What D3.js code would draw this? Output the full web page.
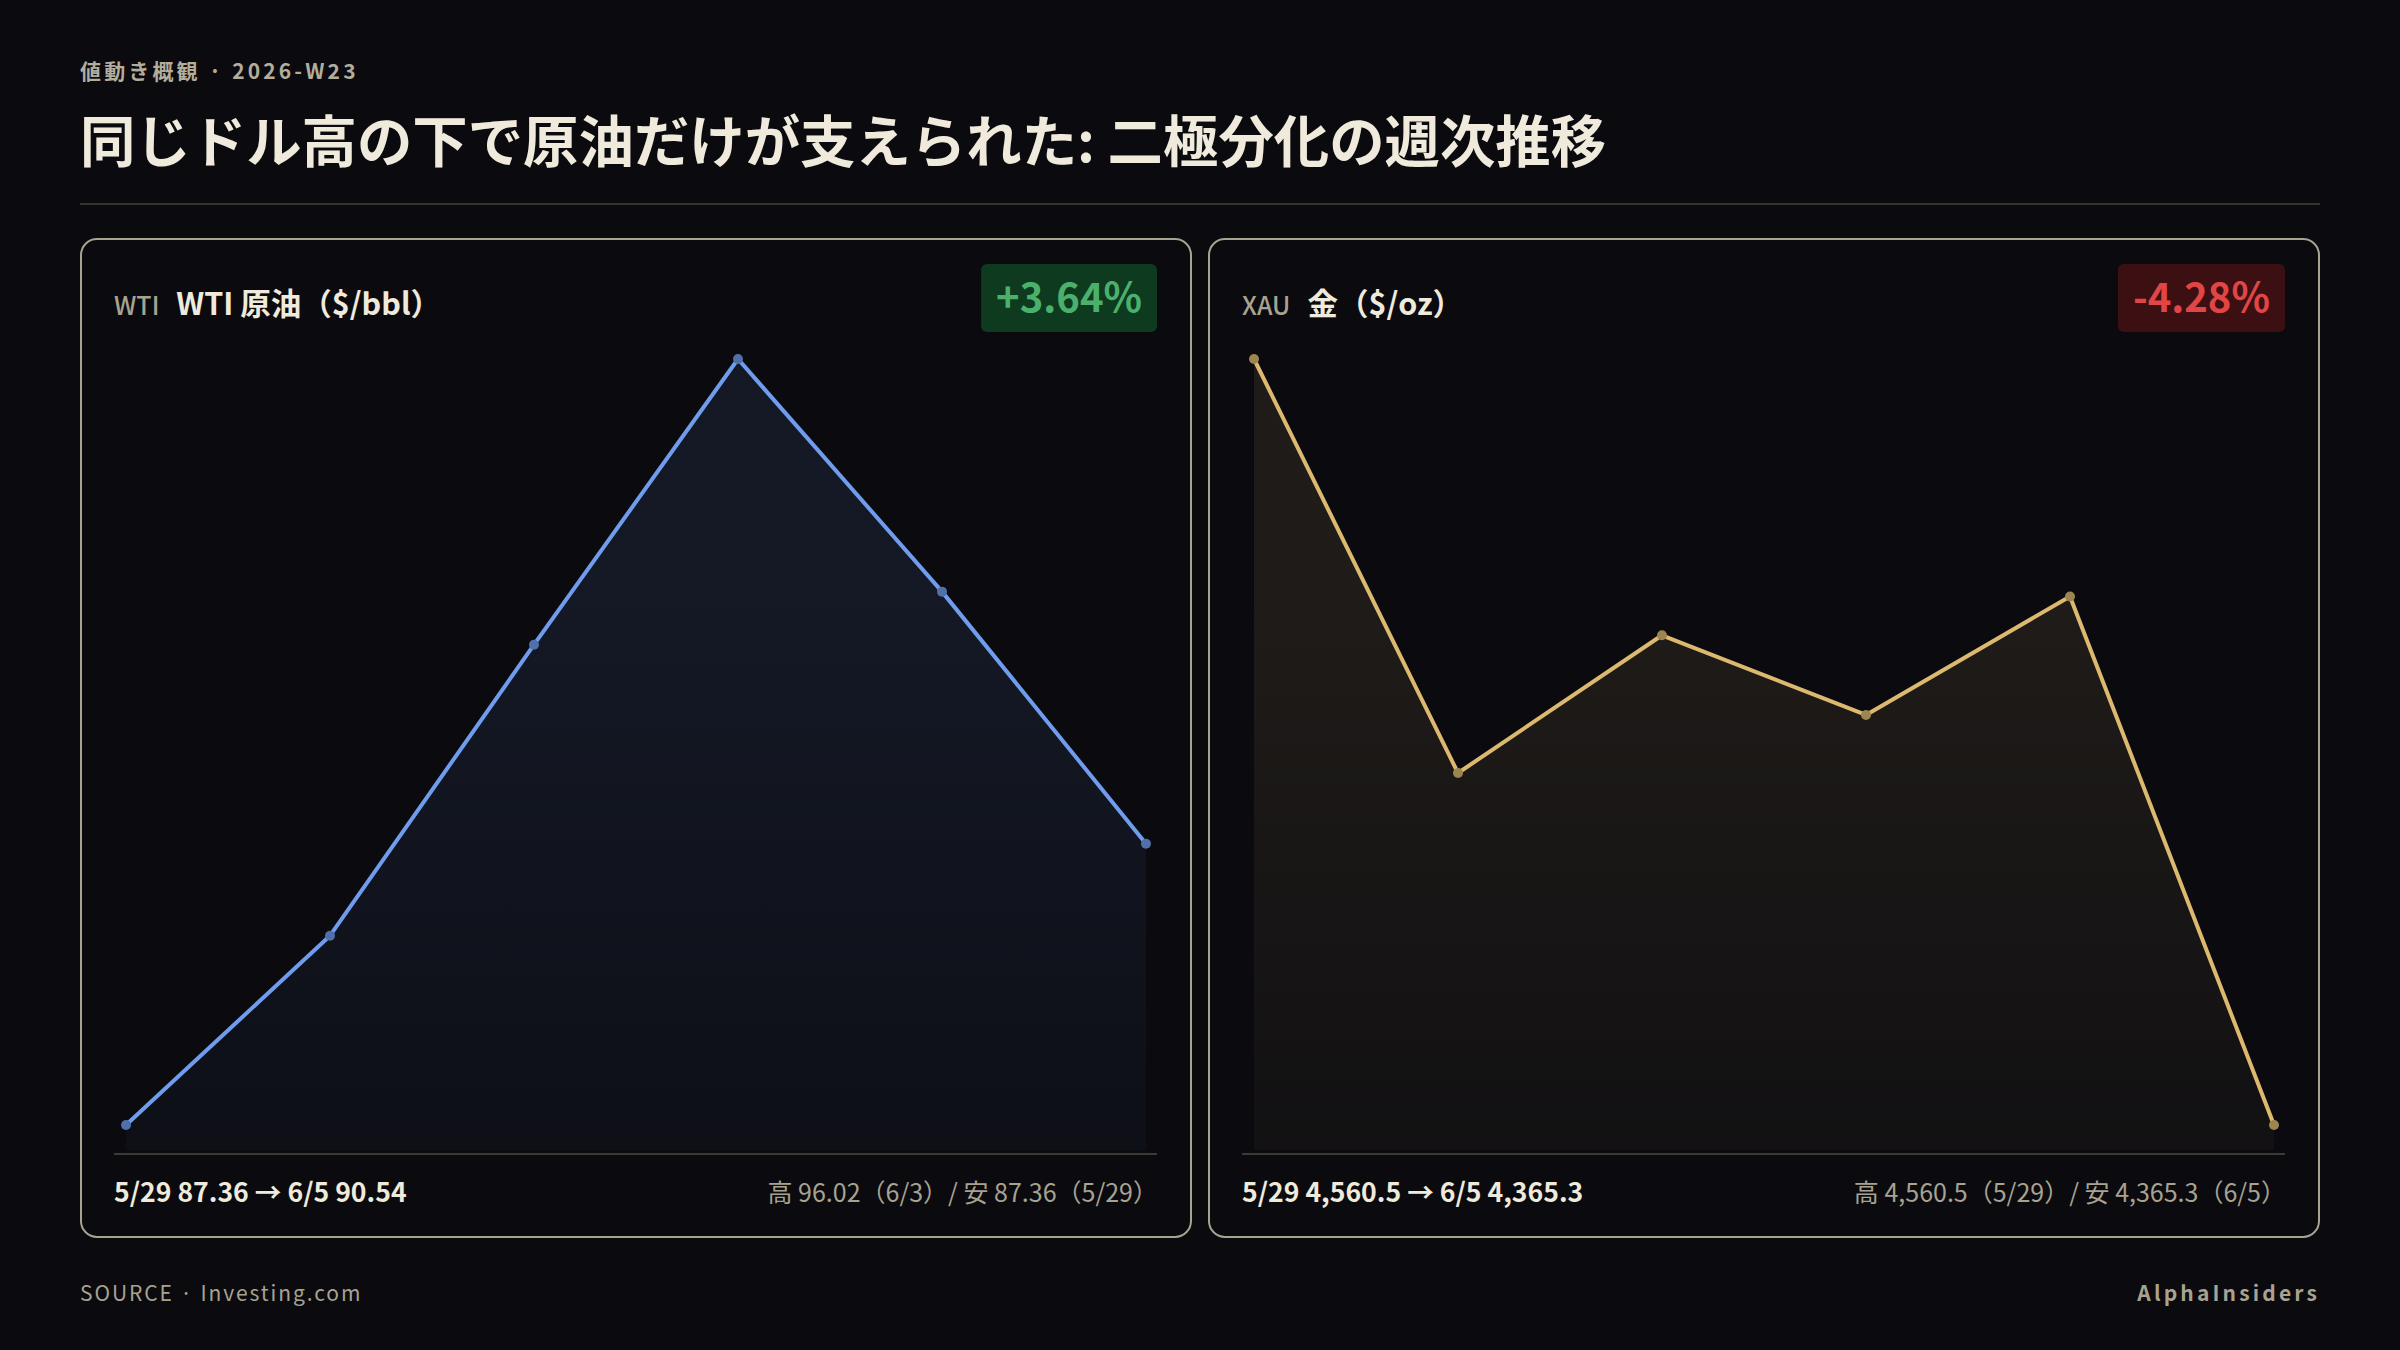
<!DOCTYPE html>
<html>
<head>
<meta charset="utf-8">
<script src="https://cdn.jsdelivr.net/npm/d3@7"></script>
<style>
  html, body { margin: 0; padding: 0; background: #0a0a0f; }
  svg { display: block; font-family: "Noto Sans CJK JP", "Noto Sans", sans-serif; }
</style>
</head>
<body>
<div id="chart"></div>
<script>
//////////////////////////////////////////////////////////////
///////////////////////// Data ///////////////////////////////
//////////////////////////////////////////////////////////////

var dates = ["5/29", "6/1", "6/2", "6/3", "6/4", "6/5"];
var wtiValues = [87.36, 89.50, 92.79, 96.02, 93.39, 90.54];
var goldValues = [4560.5, 4455.0, 4490.1, 4469.8, 4500.0, 4365.3];

var kicker = "値動き概観 · 2026-W23";
var title = "同じドル高の下で原油だけが支えられた: 二極分化の週次推移";
var source = "SOURCE · Investing.com";
var brand = "AlphaInsiders";

//////////////////////////////////////////////////////////////
/////////////////////// Settings /////////////////////////////
//////////////////////////////////////////////////////////////

var width = 2400;
var height = 1350;
var bg = "#0a0a0f";
var cream = "#efeadb";
var muted = "#a8a290";

var panelW = 1110;
var panelH = 998;
var panelTop = 239;

var panels = [
  {x: 81, code: "WTI", name: "WTI 原油（$/bbl）", values: wtiValues, color: "#6f9cec",
   fmt: d3.format(".2f")},
  {x: 1209, code: "XAU", name: "金（$/oz）", values: goldValues, color: "#dcb96e",
   fmt: d3.format(",.1f")}
];

var svg = d3.select("#chart").append("svg")
    .attr("width", width)
    .attr("height", height);

svg.append("rect")
    .attr("width", width)
    .attr("height", height)
    .attr("fill", bg);

var defs = svg.append("defs");

//////////////////////////////////////////////////////////////
//////////////////////// Header //////////////////////////////
//////////////////////////////////////////////////////////////

svg.append("text")
    .attr("x", 80)
    .attr("y", 79)
    .style("font-size", "21px")
    .style("font-weight", 700)
    .style("letter-spacing", "0.15em")
    .style("fill", "#b3ad9c")
    .text(kicker);

svg.append("text")
    .attr("x", 80)
    .attr("y", 162)
    .style("font-size", "55.4px")
    .style("font-weight", 700)
    .style("fill", cream)
    .text(title);

svg.append("line")
    .attr("x1", 80).attr("x2", 2320)
    .attr("y1", 204).attr("y2", 204)
    .attr("stroke", "#34342f")
    .attr("stroke-width", 2);

//////////////////////////////////////////////////////////////
//////////////////////// Panels //////////////////////////////
//////////////////////////////////////////////////////////////

panels.forEach(function(p, k) {
  var g = svg.append("g")
      .attr("transform", "translate(" + p.x + "," + panelTop + ")");

  g.append("rect")
      .attr("x", 0).attr("y", 0)
      .attr("width", panelW)
      .attr("height", panelH)
      .attr("rx", 16)
      .attr("fill", "none")
      .attr("stroke", muted)
      .attr("stroke-width", 2);

  //Panel title
  var code = g.append("text")
      .attr("x", 33)
      .attr("y", 76)
      .style("font-size", "25px")
      .style("font-weight", 500)
      .style("fill", muted)
      .text(p.code);

  var codeW = code.node().getComputedTextLength();

  g.append("text")
      .attr("x", 33 + codeW + 17)
      .attr("y", 76)
      .style("font-size", "30.5px")
      .style("font-weight", 700)
      .style("fill", cream)
      .text(p.name);

  //Change badge
  var first = p.values[0];
  var last = p.values[p.values.length - 1];
  var change = (last - first) / first;
  var up = change >= 0;

  var badge = g.append("g");
  var badgeText = badge.append("text")
      .attr("y", 73)
      .style("font-size", "40px")
      .style("font-weight", 700)
      .style("fill", up ? "#4bb06c" : "#e04646")
      .attr("text-anchor", "end")
      .attr("x", panelW - 34 - 15)
      .text((up ? "+" : "-") + Math.abs(change * 100).toFixed(2) + "%");

  var bw = badgeText.node().getComputedTextLength() + 30;
  badge.insert("rect", "text")
      .attr("x", panelW - 34 - bw)
      .attr("y", 25)
      .attr("width", bw)
      .attr("height", 68)
      .attr("rx", 6)
      .attr("fill", up ? "#0e3a1f" : "#3c0f12");

  //Scales
  var xScale = d3.scalePoint()
      .domain(dates)
      .range([45, panelW - 45]);

  var yScale = d3.scaleLinear()
      .domain(d3.extent(p.values))
      .range([886, 120]);

  var data = dates.map(function(d, i) { return {date: d, value: p.values[i]}; });

  //Gradient for the area
  var gradId = "grad" + k;
  var grad = defs.append("linearGradient")
      .attr("id", gradId)
      .attr("gradientUnits", "userSpaceOnUse")
      .attr("x1", 0).attr("x2", 0)
      .attr("y1", panelTop + 120).attr("y2", panelTop + 911);
  grad.append("stop").attr("offset", 0).attr("stop-color", p.color).attr("stop-opacity", 0.1);
  grad.append("stop").attr("offset", 1).attr("stop-color", p.color).attr("stop-opacity", 0.01);

  var area = d3.area()
      .x(function(d) { return xScale(d.date); })
      .y0(911)
      .y1(function(d) { return yScale(d.value); });

  var line = d3.line()
      .x(function(d) { return xScale(d.date); })
      .y(function(d) { return yScale(d.value); });

  g.append("path")
      .datum(data)
      .attr("d", area)
      .attr("fill", "url(#" + gradId + ")");

  g.append("path")
      .datum(data)
      .attr("d", line)
      .attr("fill", "none")
      .attr("stroke", p.color)
      .attr("stroke-width", 4)
      .attr("stroke-linejoin", "round");

  g.selectAll(".dot")
      .data(data).enter()
      .append("circle")
        .attr("class", "dot")
        .attr("cx", function(d) { return xScale(d.date); })
        .attr("cy", function(d) { return yScale(d.value); })
        .attr("r", 5)
        .attr("fill", d3.interpolateRgb(p.color, bg)(0.3));

  //Bottom separator
  g.append("line")
      .attr("x1", 33).attr("x2", panelW - 34)
      .attr("y1", 915).attr("y2", 915)
      .attr("stroke", "#3a3a36")
      .attr("stroke-width", 2);

  //Footer texts
  g.append("text")
      .attr("x", 33)
      .attr("y", 963)
      .style("font-size", "26.6px")
      .style("font-weight", 700)
      .style("fill", cream)
      .text(dates[0] + " " + p.fmt(first) + " → " + dates[dates.length - 1] + " " + p.fmt(last));

  var hiI = d3.maxIndex(p.values);
  var loI = d3.minIndex(p.values);
  g.append("text")
      .attr("x", panelW - 33)
      .attr("y", 963)
      .attr("text-anchor", "end")
      .style("font-size", "25px")
      .style("font-weight", 400)
      .style("fill", muted)
      .text("高 " + p.fmt(p.values[hiI]) + "（" + dates[hiI] + "）/ 安 " +
            p.fmt(p.values[loI]) + "（" + dates[loI] + "）");
});

//////////////////////////////////////////////////////////////
//////////////////////// Footer //////////////////////////////
//////////////////////////////////////////////////////////////

svg.append("text")
    .attr("x", 80)
    .attr("y", 1301)
    .style("font-size", "21px")
    .style("letter-spacing", "0.09em")
    .style("fill", muted)
    .text(source);

svg.append("text")
    .attr("x", 2320)
    .attr("y", 1301)
    .attr("text-anchor", "end")
    .style("font-size", "21px")
    .style("font-weight", 600)
    .style("letter-spacing", "0.15em")
    .style("fill", muted)
    .text(brand);
</script>
</body>
</html>
